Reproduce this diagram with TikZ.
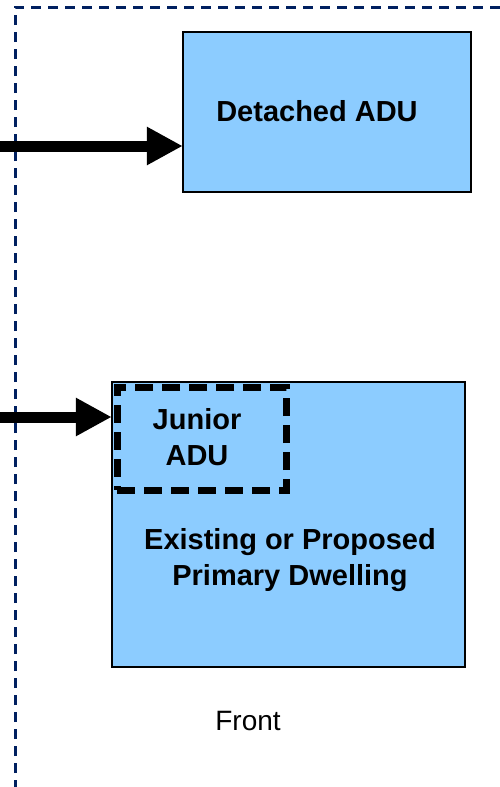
\documentclass[tikz,border=0pt]{standalone}
\usepackage{fontspec}
\setmainfont{Liberation Sans}
\usetikzlibrary{arrows.meta}
\definecolor{boxblue}{RGB}{140,204,255}
\definecolor{navy}{RGB}{0,32,96}
\tikzset{
  house/.style={draw=black, line width=1.5pt, fill=boxblue, rectangle, inner sep=0pt},
  lbl/.style={font=\fontsize{29}{36}\selectfont\bfseries, align=center, inner sep=0pt},
  bigarrow/.style={line width=11pt, -{Triangle[length=36pt,width=36pt]}, shorten >=-0.5pt},
  lotline/.style={draw=navy, line width=3pt, dash pattern=on 10pt off 7pt},
  jadu/.style={draw=black, line width=7pt, dash pattern=on 18pt off 9pt, rectangle, inner sep=0pt}
}
\begin{document}
\begin{tikzpicture}[x=1pt,y=-1pt]
\useasboundingbox (0,0) rectangle (500,787);
% lot line
\coordinate (lotbl) at (15,790);
\coordinate (lottl) at (15,7);
\coordinate (lottr) at (503,7);
\draw[lotline] (lotbl) -- (lottl) -- (lottr);
% detached ADU
\node[house, minimum width=288pt, minimum height=160pt] (detached) at (327,112) {};
\node[lbl] (dtext) at (317,111) {Detached ADU};
% primary dwelling
\node[house, minimum width=353pt, minimum height=285pt] (primary) at (288.5,524.5) {};
\node[lbl] (ptext) at (290,560) {Existing or Proposed\\Primary Dwelling};
% junior ADU
\node[jadu, minimum width=169pt, minimum height=103pt] (junior) at (201.5,438.5) {};
\node[lbl] (jtext) at (197,437) {Junior\\ADU};
% arrows
\coordinate (a1) at (-2,146);
\coordinate (a2) at (-2,417);
\draw[bigarrow] (a1) -- (a1 -| detached.west);
\draw[bigarrow] (a2) -- (a2 -| primary.west);
% front
\node[font=\fontsize{28}{34}\selectfont, inner sep=0pt] (front) at (248,721) {Front};
\end{tikzpicture}
\end{document}
